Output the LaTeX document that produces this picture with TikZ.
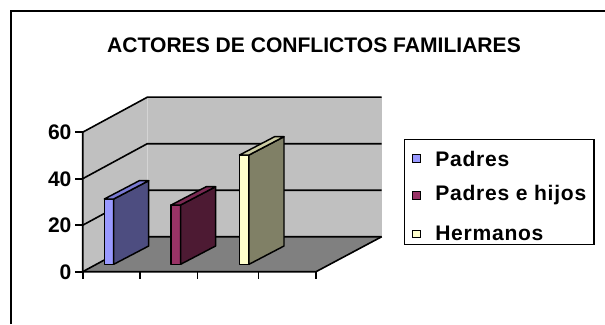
\documentclass[tikz,border=0pt]{standalone}
\usepackage{fontspec}
\setmainfont{Liberation Sans}
\usepackage{tikz}
\usetikzlibrary{calc}
\definecolor{wallgray}{RGB}{192,192,192}
\definecolor{walledge}{RGB}{212,212,212}
\definecolor{floorgray}{RGB}{128,128,128}
\definecolor{padresfront}{RGB}{153,153,255}
\definecolor{padrestop}{RGB}{122,122,210}
\definecolor{padresside}{RGB}{77,77,128}
\definecolor{hijosfront}{RGB}{153,51,102}
\definecolor{hijostop}{RGB}{122,41,82}
\definecolor{hijosside}{RGB}{77,26,51}
\definecolor{hermfront}{RGB}{255,255,204}
\definecolor{hermtop}{RGB}{204,204,163}
\definecolor{hermside}{RGB}{128,128,102}
\newcommand{\chartfont}{\fontsize{15.8}{19}\selectfont\bfseries}
\newcommand{\legendfont}{\chartfont\addfontfeature{LetterSpace=3.5}}
\newcommand{\unitpx}{2.325}
\newcommand{\barbase}{264.3}
% front x, top y, front colour, top colour, side colour
\newcommand{\colbar}[5]{
    \filldraw[barline, fill=#3] (#1,\barbase) rectangle (#1+9.4,#2);
    \filldraw[barline, fill=#5] (#1+9.4,\barbase) -- (#1+44.4,\barbase-18.3)
        -- (#1+44.4,#2-18.3) -- (#1+9.4,#2) -- cycle;
    \filldraw[barline, fill=#4] (#1,#2) -- (#1+35,#2-18.3)
        -- (#1+44.4,#2-18.3) -- (#1+9.4,#2) -- cycle;
}
\tikzset{
    chartline/.style={black, line width=1.2pt},
    barline/.style={black, line width=1.1pt, line join=round},
    axislabel/.style={anchor=east, inner sep=0pt, font=\chartfont},
    legendkey/.style={draw, line width=0.8pt, minimum size=5.6pt, inner sep=0pt},
    legendtext/.style={anchor=west, inner sep=0pt, font=\legendfont}
}
\begin{document}
\begin{tikzpicture}[x=0.75pt, y=-0.75pt]
    \useasboundingbox (0,0) rectangle (605,324);
    \draw[chartline] (11,324) -- (11,11) -- (605,11);

    \node[font=\chartfont, inner sep=0pt] (title) at (314,45) {ACTORES DE CONFLICTOS FAMILIARES};

    % walls and floor
    \fill[wallgray] (147.3,96.7) rectangle (381.7,236.7);
    \fill[wallgray] (82.7,271.7) -- (82.7,132.3) -- (147.3,97.3) -- (147.3,236.7) -- cycle;
    \draw[walledge, line width=0.6pt] (147.3,97.3) -- (147.3,236.7);
    \fill[floorgray] (82.7,271.7) -- (147.3,236.7) -- (381.7,236.7) -- (316,271.7) -- cycle;

    \foreach \v in {0,20,40,60}{
        \draw[chartline] (82.7,271.7-\v*\unitpx) -- (147.3,236.7-\v*\unitpx) -- (381.7,236.7-\v*\unitpx);
        \draw[chartline] (75,271.7-\v*\unitpx) -- (82.7,271.7-\v*\unitpx);
        \node[axislabel] (lab\v) at (71.7,272.2-\v*\unitpx) {\v};
    }
    \draw[chartline] (82.7,132.3) -- (82.7,271.7) -- (316,271.7) -- (381.7,236.7);
    \foreach \t in {82.7,140,197.3,258.3,316}{
        \draw[chartline] (\t,271.7) -- (\t,279);
    }

    % bars
    \colbar{104.3}{199.0}{padresfront}{padrestop}{padresside}
    \colbar{171.2}{205.0}{hijosfront}{hijostop}{hijosside}
    \colbar{239.6}{155.0}{hermfront}{hermtop}{hermside}

    % legend
    \node[draw, line width=1pt, fill=white, minimum width=142.2pt, minimum height=78.4pt,
        anchor=north west, inner sep=0pt] (legend) at (403.8,139) {};
    \path (416.4,158.5) node[legendkey, fill=padresfront] (keypadres) {}
        ++(18.6,0) node[legendtext] (txtpadres) {Padres};
    \path (416.4,195.5) node[legendkey, fill=hijosfront] (keyhijos) {}
        ++(18.6,0) node[legendtext] (txthijos) {Padres e hijos};
    \path (416.4,233.8) node[legendkey, fill=hermfront] (keyherm) {}
        ++(18.6,0) node[legendtext] (txtherm) {Hermanos};
\end{tikzpicture}
\end{document}
